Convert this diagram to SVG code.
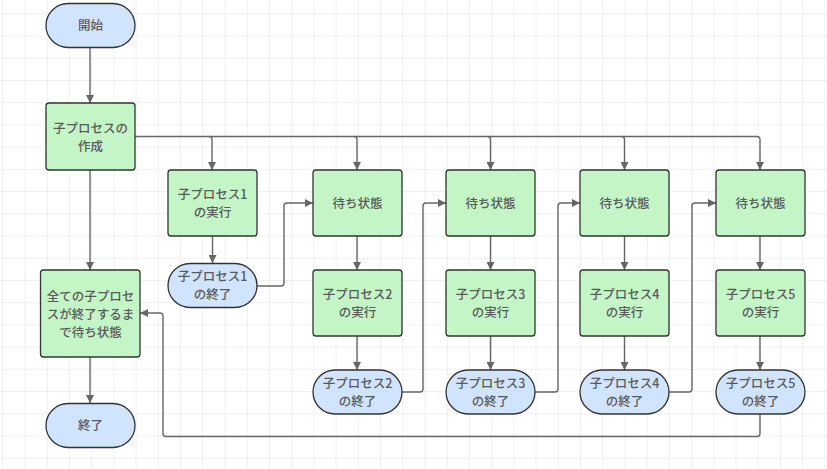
<svg xmlns="http://www.w3.org/2000/svg" width="827" height="469" viewBox="0 0 827 469">
  <defs>
    <pattern id="grid" x="2.3" y="13.3" width="22.22" height="22.22" patternUnits="userSpaceOnUse">
      <path d="M0 0 H22.22 M0 0 V22.22" fill="none" stroke="#e1e1e1" stroke-width="1"/>
    </pattern>
    <marker id="arrow" viewBox="0 0 10 10" refX="10" refY="5" markerWidth="8" markerHeight="8" markerUnits="userSpaceOnUse" orient="auto">
      <path d="M0 0 L10 5 L0 10 Z" fill="#666"/>
    </marker>
    <style>
      .task { fill: #c3f5c6; stroke: #333; stroke-width: 1.3; }
      .term { fill: #d0e4fe; stroke: #333; stroke-width: 1.3; }
      .lbl { font-family: "Noto Sans CJK JP", "Noto Sans", sans-serif; font-size: 12.5px; font-weight: 500; fill: #5a5a5a; text-anchor: middle; }
      .edge { fill: none; stroke: #666; stroke-width: 1.4; marker-end: url(#arrow); }
      .line { fill: none; stroke: #666; stroke-width: 1.4; }
    </style>
  </defs>

  <rect width="827" height="469" fill="#fff"/>
  <rect width="827" height="469" fill="url(#grid)"/>

  <!-- connectors -->
  <g id="connectors">
    <path class="edge" d="M90 47.5 V103"/>
    <path class="line" d="M134.5 136.5 H757 Q760 136.5 760 139.5"/>
    <path class="edge" d="M209 136.5 Q212 136.5 212 139.5 V170"/>
    <path class="edge" d="M354 136.5 Q357 136.5 357 139.5 V170"/>
    <path class="edge" d="M487.5 136.5 Q490.5 136.5 490.5 139.5 V170"/>
    <path class="edge" d="M621.5 136.5 Q624.5 136.5 624.5 139.5 V170"/>
    <path class="edge" d="M760 139.5 V170"/>
    <path class="edge" d="M90 170 V270"/>
    <path class="edge" d="M90 357 V403"/>
    <path class="edge" d="M212.5 236 V263"/>
    <path class="edge" d="M257 286 H281 Q284 286 284 283 V206 Q284 203 287 203 H313"/>
    <path class="edge" d="M357 236 V270"/>
    <path class="edge" d="M357 336 V370"/>
    <path class="edge" d="M401.5 392 H420 Q423 392 423 389 V206 Q423 203 426 203 H446"/>
    <path class="edge" d="M490.5 236 V270"/>
    <path class="edge" d="M490.5 336 V370"/>
    <path class="edge" d="M535 392 H555 Q558 392 558 389 V206 Q558 203 561 203 H580"/>
    <path class="edge" d="M624.5 236 V270"/>
    <path class="edge" d="M624.5 336 V370"/>
    <path class="edge" d="M669 392 H689 Q692 392 692 389 V206 Q692 203 695 203 H716"/>
    <path class="edge" d="M760 236 V270"/>
    <path class="edge" d="M760 336 V370"/>
    <path class="edge" d="M760 414 V433.5 Q760 436.5 757 436.5 H166 Q163 436.5 163 433.5 V316 Q163 313 160 313 H140"/>
  </g>

  <g id="start">
    <rect class="term" x="46" y="3.5" width="89" height="44" rx="22"/>
    <text class="lbl" x="90.5" y="30">開始</text>
  </g>
  <g id="create">
    <rect class="task" x="46" y="103" width="89" height="67" rx="3"/>
    <text class="lbl" x="90.5" y="133">子プロセスの</text>
    <text class="lbl" x="90.5" y="151">作成</text>
  </g>
  <g id="waitAll">
    <rect class="task" x="40.5" y="270" width="99.5" height="87" rx="3"/>
    <text class="lbl" x="90.5" y="301">全ての子プロセ</text>
    <text class="lbl" x="90.5" y="319">スが終了するま</text>
    <text class="lbl" x="90.5" y="337">で待ち状態</text>
  </g>
  <g id="end">
    <rect class="term" x="46" y="403.5" width="89" height="44" rx="22"/>
    <text class="lbl" x="90.5" y="430">終了</text>
  </g>

  <g id="run1">
    <rect class="task" x="168" y="170" width="89" height="66" rx="3"/>
    <text class="lbl" x="212.5" y="199">子プロセス1</text>
    <text class="lbl" x="212.5" y="217">の実行</text>
  </g>
  <g id="done1">
    <rect class="term" x="168" y="263.5" width="89" height="44" rx="22"/>
    <text class="lbl" x="212.5" y="281">子プロセス1</text>
    <text class="lbl" x="212.5" y="299">の終了</text>
  </g>

  <g id="wait2">
    <rect class="task" x="313" y="170" width="89" height="66" rx="3"/>
    <text class="lbl" x="357.5" y="208">待ち状態</text>
  </g>
  <g id="run2">
    <rect class="task" x="313" y="270" width="89" height="66" rx="3"/>
    <text class="lbl" x="357.5" y="299">子プロセス2</text>
    <text class="lbl" x="357.5" y="317">の実行</text>
  </g>
  <g id="done2">
    <rect class="term" x="313" y="370" width="89" height="44" rx="22"/>
    <text class="lbl" x="357.5" y="388">子プロセス2</text>
    <text class="lbl" x="357.5" y="406">の終了</text>
  </g>

  <g id="wait3">
    <rect class="task" x="446" y="170" width="89" height="66" rx="3"/>
    <text class="lbl" x="490.5" y="208">待ち状態</text>
  </g>
  <g id="run3">
    <rect class="task" x="446" y="270" width="89" height="66" rx="3"/>
    <text class="lbl" x="490.5" y="299">子プロセス3</text>
    <text class="lbl" x="490.5" y="317">の実行</text>
  </g>
  <g id="done3">
    <rect class="term" x="446" y="370" width="89" height="44" rx="22"/>
    <text class="lbl" x="490.5" y="388">子プロセス3</text>
    <text class="lbl" x="490.5" y="406">の終了</text>
  </g>

  <g id="wait4">
    <rect class="task" x="580" y="170" width="89" height="66" rx="3"/>
    <text class="lbl" x="624.5" y="208">待ち状態</text>
  </g>
  <g id="run4">
    <rect class="task" x="580" y="270" width="89" height="66" rx="3"/>
    <text class="lbl" x="624.5" y="299">子プロセス4</text>
    <text class="lbl" x="624.5" y="317">の実行</text>
  </g>
  <g id="done4">
    <rect class="term" x="580" y="370" width="89" height="44" rx="22"/>
    <text class="lbl" x="624.5" y="388">子プロセス4</text>
    <text class="lbl" x="624.5" y="406">の終了</text>
  </g>

  <g id="wait5">
    <rect class="task" x="716" y="170" width="89" height="66" rx="3"/>
    <text class="lbl" x="760.5" y="208">待ち状態</text>
  </g>
  <g id="run5">
    <rect class="task" x="716" y="270" width="89" height="66" rx="3"/>
    <text class="lbl" x="760.5" y="299">子プロセス5</text>
    <text class="lbl" x="760.5" y="317">の実行</text>
  </g>
  <g id="done5">
    <rect class="term" x="716" y="370" width="89" height="44" rx="22"/>
    <text class="lbl" x="760.5" y="388">子プロセス5</text>
    <text class="lbl" x="760.5" y="406">の終了</text>
  </g>
</svg>
